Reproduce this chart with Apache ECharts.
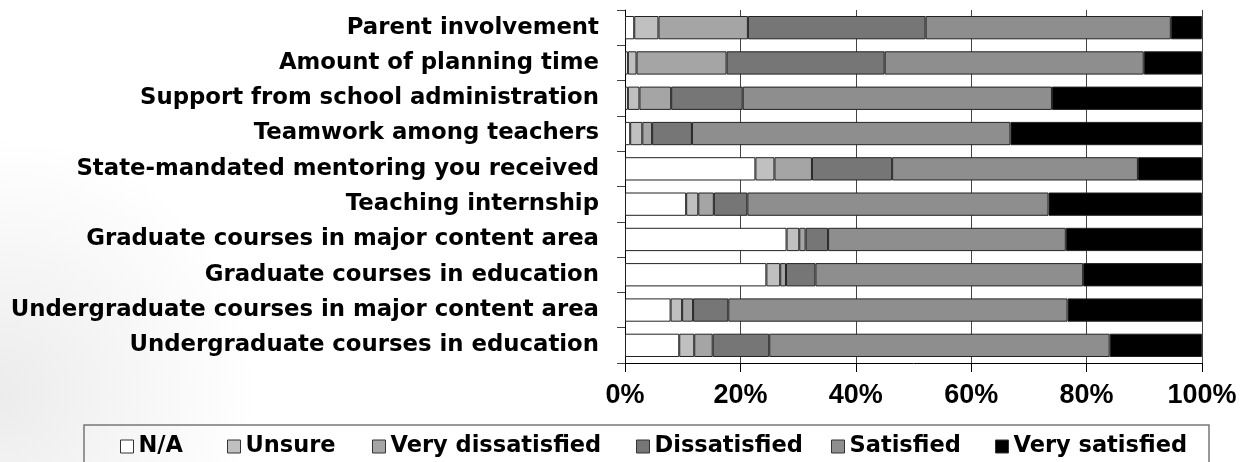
<!DOCTYPE html>
<html>
<head>
<meta charset="utf-8">
<script src="https://cdn.jsdelivr.net/npm/echarts@6/dist/echarts.min.js"></script>
<style>
html,body{margin:0;padding:0;background:#fff;}
#chart{width:1245px;height:462px;}
</style>
</head>
<body>
<div id="chart"></div>
<script>
var categories = ['Parent involvement','Amount of planning time','Support from school administration','Teamwork among teachers','State-mandated mentoring you received','Teaching internship','Graduate courses in major content area','Graduate courses in education','Undergraduate courses in major content area','Undergraduate courses in education'];
var seriesNames = ['N/A','Unsure','Very dissatisfied','Dissatisfied','Satisfied','Very satisfied'];
var na       = [1.6, 0.5, 0.5, 0.9, 22.6, 10.6, 28.0, 24.5, 7.9, 9.4];
var unsure   = [4.2, 1.5, 2.0, 2.1, 3.3, 2.1, 2.2, 2.4, 2.0, 2.6];
var veryDis  = [15.5, 15.6, 5.5, 1.7, 6.5, 2.7, 1.1, 1.0, 1.9, 3.2];
var dis      = [30.8, 27.4, 12.4, 6.9, 13.9, 5.8, 3.9, 5.1, 6.1, 9.8];
var sat      = [42.5, 44.9, 53.6, 55.2, 42.6, 52.2, 41.2, 46.4, 58.8, 59.0];
var verySat  = [5.4, 10.1, 26.0, 33.2, 11.1, 26.6, 23.6, 20.6, 23.3, 16.0];
var xTicks = [0, 20, 40, 60, 80, 100];

var values = [na, unsure, veryDis, dis, sat, verySat];
var colors = ['#ffffff','#c0c0c0','#a5a5a5','#767676','#8e8e8e','#000000'];
var legendLefts = [120, 227, 372, 636, 831, 995];
var labelFont = 'DejaVu Sans';

var chart = echarts.init(document.getElementById('chart'));
var series = seriesNames.map(function(n, i){
  return {
    name: n, type: 'bar', stack: 'total', data: values[i],
    barCategoryGap: '34%',
    itemStyle: {color: colors[i], borderColor: '#222', borderWidth: 1},
    emphasis: {disabled: true}
  };
});
var legends = seriesNames.map(function(n, i){
  return {
    data: [n], left: legendLefts[i], top: 435, orient: 'horizontal',
    itemWidth: 13, itemHeight: 13, icon: 'rect', padding: 0, itemGap: 0,
    itemStyle: {borderColor: '#333', borderWidth: 1},
    textStyle: {fontFamily: labelFont, fontWeight: 'bold', fontSize: 22.5, color: '#000'},
    selectedMode: false
  };
});
chart.setOption({
  animation: false,
  graphic: [
    {type: 'rect', z: -10, silent: true, shape: {x: 0, y: 0, width: 1245, height: 462},
     style: {fill: {type: 'radial', x: 0.0, y: 0.85, r: 0.55,
       colorStops: [{offset: 0, color: '#ececec'}, {offset: 1, color: '#ffffff'}]}}},
    {type: 'rect', z: 1, silent: true, shape: {x: 84, y: 425, width: 1125, height: 60},
     style: {fill: 'transparent', stroke: '#777', lineWidth: 1.5}}
  ],
  legend: legends,
  grid: {left: 625, right: 43, top: 10, bottom: 99, containLabel: false},
  xAxis: {
    type: 'value', min: 0, max: 100, interval: 20,
    axisLine: {show: true, lineStyle: {color: '#000', width: 1}},
    axisTick: {show: true, length: 9, lineStyle: {color: '#000'}},
    splitLine: {show: true, lineStyle: {color: '#444', width: 1}},
    axisLabel: {formatter: function(v){ return xTicks.indexOf(v) >= 0 ? v + '%' : ''; },
      fontFamily: 'Liberation Sans', fontWeight: 'bold', fontSize: 27, color: '#000', margin: 19}
  },
  yAxis: {
    type: 'category', data: categories, inverse: true,
    axisLine: {show: true, lineStyle: {color: '#000', width: 1}},
    axisTick: {show: true, length: 8, lineStyle: {color: '#444'}},
    axisLabel: {fontFamily: labelFont, fontWeight: 'bold', fontSize: 22.8, color: '#000', margin: 26}
  },
  series: series
});
</script>
</body>
</html>
